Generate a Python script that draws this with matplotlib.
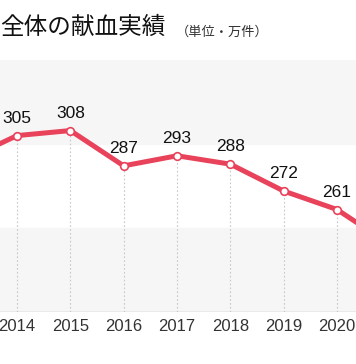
import matplotlib
matplotlib.use('Agg')
import matplotlib.pyplot as plt

# データ（単位：万件）
years = [2013, 2014, 2015, 2016, 2017, 2018, 2019, 2020, 2021]
values = [290, 305, 308, 287, 293, 288, 272, 261, 240]
tick_years = [2014, 2015, 2016, 2017, 2018, 2019, 2020]

title = '全体の献血実績'
unit = '（単位・万件）'

plt.rcParams['font.family'] = ['Noto Sans CJK JP', 'DejaVu Sans']

fig = plt.figure(figsize=(3.56, 3.64), dpi=100)
ax = fig.add_axes([0, 1 - 312 / 364, 1, 252 / 364])

# 背景の帯
ax.axhspan(200, 250, color='#f6f6f6', zorder=0)
ax.axhspan(300, 350, color='#f6f6f6', zorder=0)

# 点線（各年の点から下へ）
ax.vlines(years, 200, values, colors='#c8c8c8', linestyles=(0, (1.5, 2)), linewidth=0.8, zorder=1)

line_color = '#e8435a'
ax.plot(years, values, color=line_color, linewidth=3.6, zorder=2, solid_capstyle='round')
ax.plot(years, values, 'o', markersize=5.5, markerfacecolor='white',
        markeredgecolor=line_color, markeredgewidth=1.2, zorder=3)

for x, v in zip(years, values):
    ax.annotate(str(v), (x, v), xytext=(0, 12.5), textcoords='offset points',
                ha='center', va='center', fontsize=12.5,
                family=['Liberation Sans', 'DejaVu Sans'], color='#111111')

ax.axhline(200, color='#bbbbbb', linewidth=1.0, zorder=2)

ax.set_xlim(2013.681, 2020.356)
ax.set_ylim(200, 350)
ax.set_xticks(tick_years)
ax.set_xticklabels([str(y) for y in tick_years], fontsize=12,
                   family=['Liberation Sans', 'DejaVu Sans'], color='#333333')
ax.tick_params(axis='x', length=0, pad=5)
ax.set_yticks([])
for s in ax.spines.values():
    s.set_visible(False)

fig.text(0.0, 1 - 27 / 364, title, fontsize=17, va='center', ha='left', color='#111111')
fig.text(176 / 356, 1 - 32 / 364, unit, fontsize=9.5, va='center', ha='left', color='#333333')

fig.savefig('out.png', dpi=100)
